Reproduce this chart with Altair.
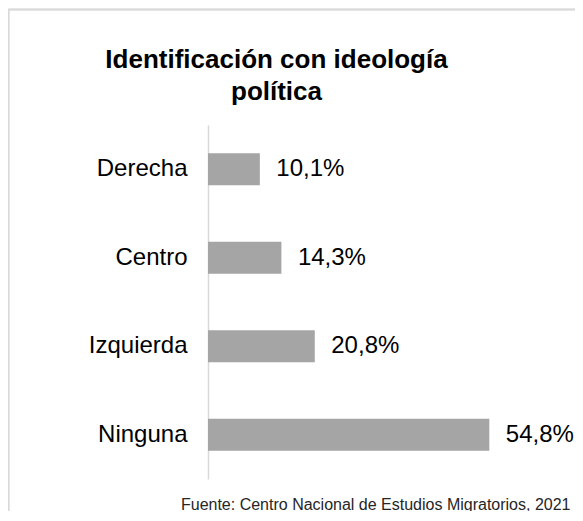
import altair as alt
import pandas as pd

categories = ["Derecha", "Centro", "Izquierda", "Ninguna"]
values = [10.1, 14.3, 20.8, 54.8]
labels = [f"{v:.1f}".replace(".", ",") + "%" for v in values]

df = pd.DataFrame({"cat": categories, "val": values, "lab": labels})

FONT = "Liberation Sans"
W, H = 308, 354
PL, PT = 200, 117
TOTAL_W, TOTAL_H = 567, 503
PR, PB = TOTAL_W - PL - W, TOTAL_H - PT - H

x = alt.X(
    "val:Q",
    scale=alt.Scale(domain=[0, 60], nice=False),
    axis=alt.Axis(
        domain=False, ticks=False, labels=False, grid=False,
        title="Fuente: Centro Nacional de Estudios Migratorios, 2021",
        titleFont=FONT, titleFontSize=16, titleFontWeight="normal",
        titleColor="#262626", titleAlign="right", titleBaseline="alphabetic",
        titleX=362, titleY=30, titleAnchor="start",
    ),
)
y = alt.Y(
    "cat:N",
    sort=categories,
    scale=alt.Scale(paddingInner=0.64, paddingOuter=0.32),
    axis=alt.Axis(
        title=None, ticks=False, grid=False,
        domainColor="#D9D9D9", domainWidth=1.5,
        labelFont=FONT, labelFontSize=24, labelColor="#000000",
        labelPadding=21, labelLimit=300,
    ),
)

base = alt.Chart(df)
bars = base.mark_bar(color="#A5A5A5").encode(x=x, y=y)
text = base.mark_text(
    align="left", baseline="middle", dx=16.5, font=FONT, fontSize=24, color="#000000"
).encode(x="val:Q", y=alt.Y("cat:N", sort=categories), text="lab:N")

border_top = base.mark_rule(color="#D9D9D9", strokeWidth=1.5).encode(
    x=alt.value(-199.5), x2=alt.value(W + PR), y=alt.value(-PT + 1.5)
)
border_left = base.mark_rule(color="#D9D9D9", strokeWidth=1.5).encode(
    x=alt.value(-199.5), y=alt.value(-PT + 1.5), y2=alt.value(H + PB)
)

chart = (
    alt.layer(bars, text, border_top, border_left)
    .properties(
        width=W,
        height=H,
        autosize=alt.AutoSizeParams(type="none"),
        padding={"left": PL, "top": PT, "right": PR, "bottom": PB},
        background="white",
        title=alt.TitleParams(
            text=["Identificación con ideología", "política"],
            font=FONT, fontSize=26, fontWeight="bold", color="#000000",
            anchor="middle", frame="group", dx=-85.5, offset=-117,
            baseline="alphabetic", lineHeight=32,
        ),
    )
    .configure_view(stroke=None)
)

chart.save("out.html", embed_options={"renderer": "svg", "actions": False})
